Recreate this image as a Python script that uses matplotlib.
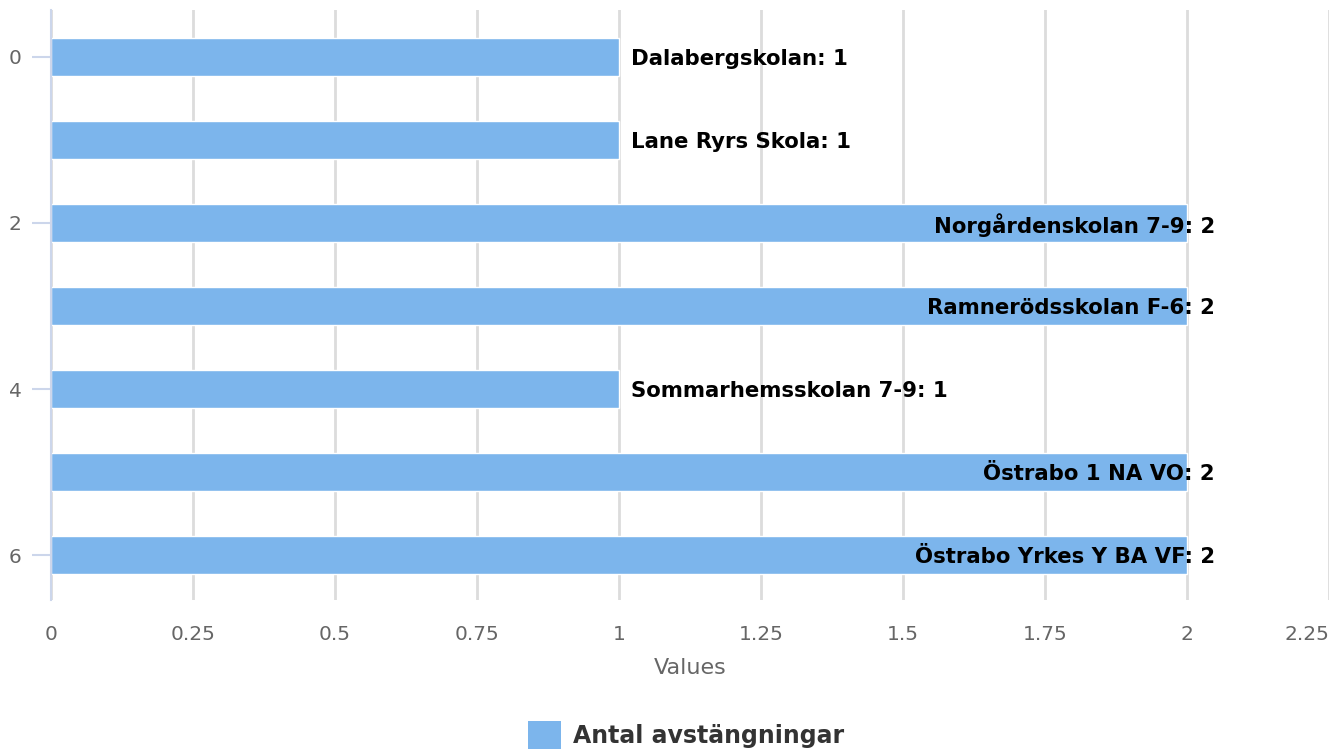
import matplotlib.pyplot as plt
from matplotlib.patches import Patch

# data
schools = ["Dalabergskolan", "Lane Ryrs Skola", "Norgårdenskolan 7-9",
           "Ramnerödsskolan F-6", "Sommarhemsskolan 7-9", "Östrabo 1 NA VO",
           "Östrabo Yrkes Y BA VF"]
counts = [1, 1, 2, 2, 1, 2, 2]
series_name = "Antal avstängningar"
xticks = [0, 0.25, 0.5, 0.75, 1, 1.25, 1.5, 1.75, 2, 2.25]
xtick_labels = ["0", "0.25", "0.5", "0.75", "1", "1.25", "1.5", "1.75", "2", "2.25"]

fig = plt.figure(figsize=(13.43, 7.49), dpi=100)
W, H = 1343, 749
ax = fig.add_axes([51 / W, 1 - 600 / H, (1329 - 51) / W, 590 / H])

pos = list(range(len(schools)))
ax.barh(pos, counts, height=0.46, color="#7cb5ec", edgecolor="white",
        linewidth=1, zorder=3)

ax.set_xlim(0, 2.25)
ax.set_ylim(6.542, -0.566)

ax.set_xticks(xticks)
ax.set_xticklabels(xtick_labels)
ax.get_xticklabels()[-1].set_horizontalalignment("right")
ax.set_yticks([0, 2, 4, 6])
ax.set_yticklabels(["0", "2", "4", "6"])

ax.grid(axis="x", color="#dcdcdc", linewidth=2, zorder=0)
ax.grid(axis="y", visible=False)
for s in ["top", "right", "bottom"]:
    ax.spines[s].set_visible(False)
ax.spines["left"].set_color("#ccd6eb")
ax.spines["left"].set_linewidth(1.5)
ax.spines["left"].set_zorder(4)

ax.tick_params(axis="x", length=0, pad=18, labelsize=14.5, labelcolor="#666666")
ax.tick_params(axis="y", length=14, width=1.5, color="#ccd6eb", pad=7,
               labelsize=14.5, labelcolor="#666666")
ax.set_xlabel("Values", fontsize=16, color="#666666", labelpad=10)

top = max(counts)
for p, v, name in zip(pos, counts, schools):
    label = f"{name}: {v}"
    if v == top:
        ax.annotate(label, (v, p), xytext=(20, -1.5), textcoords="offset points",
                    ha="right", va="center", fontsize=15.3, fontweight="bold",
                    color="black", zorder=5)
    else:
        ax.annotate(label, (v, p), xytext=(8.5, -1.5), textcoords="offset points",
                    ha="left", va="center", fontsize=15.3, fontweight="bold",
                    color="black", zorder=5)

handle = Patch(facecolor="#7cb5ec", edgecolor="none")
leg = fig.legend([handle], [series_name], loc="center", bbox_to_anchor=(0.511, 1 - 735 / H),
                 frameon=False, handlelength=1.4, handleheight=1.4, handletextpad=0.5,
                 prop={"size": 17, "weight": "bold"})
for t in leg.get_texts():
    t.set_color("#333333")

plt.savefig("out.png", dpi=100)
